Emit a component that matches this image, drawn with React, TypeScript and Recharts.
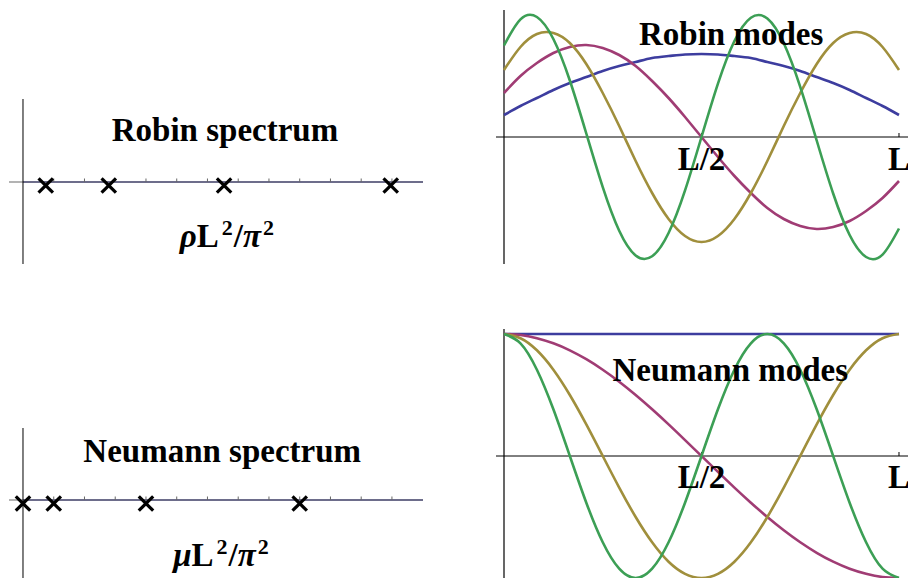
import type { ReactNode } from "react";
import {
  ComposedChart,
  Line,
  ReferenceDot,
  ReferenceLine,
  Scatter,
  ScatterChart,
  XAxis,
  YAxis,
} from "recharts";

// eigenvalues marked on the spectrum lines, in units of pi^2/L^2
const robinEigenvalues = [0.74, 2.79, 6.54, 11.96];
const neumannEigenvalues = [0, 1, 4, 9];
const spectrumTicks = [1, 2, 3, 4, 5, 6, 7, 8, 9, 10, 11, 12];

// mode shapes sampled at x = k*L/24, k = 0..24 (amplitude in px above the axis)
const robinBlue = [22, 31, 39, 47, 54, 60, 66, 71, 75, 79, 81, 82.5, 83, 82.5, 81, 79, 75, 71, 66, 60, 54, 47, 39, 31, 22];
const robinMagenta = [44, 61, 74, 84, 90, 92, 89, 82, 71, 56, 39, 20, 0, -20, -39, -56, -71, -82, -89, -92, -90, -84, -74, -61, -44];
const robinOlive = [67, 90, 103, 104, 94, 73, 44, 11, -24, -56, -82, -99, -105, -99, -82, -56, -24, 11, 44, 73, 94, 104, 103, 90, 67];
const robinGreen = [91.5, 117.6, 120, 98, 56.5, 3.5, -50.2, -93.8, -118.5, -119.3, -96, -53.4, 0, 53.4, 96, 119.3, 118.5, 93.8, 50.2, -3.5, -56.5, -98, -120, -117.6, -91.5];

const neumannBlue = [122, 122, 122, 122, 122, 122, 122, 122, 122, 122, 122, 122, 122, 122, 122, 122, 122, 122, 122, 122, 122, 122, 122, 122, 122];
const neumannMagenta = [122, 121, 117.8, 112.7, 105.7, 96.8, 86.3, 74.3, 61, 46.7, 31.6, 15.9, 0, -15.9, -31.6, -46.7, -61, -74.3, -86.3, -96.8, -105.7, -112.7, -117.8, -121, -122];
const neumannOlive = [122, 117.8, 105.7, 86.3, 61, 31.6, 0, -31.6, -61, -86.3, -105.7, -117.8, -122, -117.8, -105.7, -86.3, -61, -31.6, 0, 31.6, 61, 86.3, 105.7, 117.8, 122];
const neumannGreen = [122, 112.7, 86.3, 46.7, 0, -46.7, -86.3, -112.7, -122, -112.7, -86.3, -46.7, 0, 46.7, 86.3, 112.7, 122, 112.7, 86.3, 46.7, 0, -46.7, -86.3, -112.7, -122];

const modeTicks = [12, 24];
const modeTickLabels = ["L/2", "L"];

const COLORS = ["#3d3d9f", "#a03c74", "#a08f3c", "#3c9f55"];
const SERIF = "'Liberation Serif', 'Times New Roman', serif";

function boldText(x: number, y: number, content: ReactNode) {
  return (
    <text
      x={x}
      y={y}
      textAnchor="middle"
      fontFamily={SERIF}
      fontWeight="bold"
      fontSize={33}
      fill="#000"
    >
      {content}
    </text>
  );
}

// rho L^2 / pi^2 style axis caption
function scaledCaption(symbol: string) {
  return (
    <>
      <tspan fontStyle="italic">{symbol}</tspan>
      <tspan>L</tspan>
      <tspan fontSize={22} dx={3} dy={-12}>2</tspan>
      <tspan dx={1} dy={12}>/</tspan>
      <tspan fontStyle="italic">π</tspan>
      <tspan fontSize={22} dx={2} dy={-12}>2</tspan>
    </>
  );
}

function Cross(props: { cx?: number; cy?: number }) {
  const { cx = 0, cy = 0 } = props;
  const c = cy + 3.5;
  const h = 7.2;
  return (
    <g stroke="#000" strokeWidth={3.2}>
      <line x1={cx - h} y1={c - h} x2={cx + h} y2={c + h} />
      <line x1={cx - h} y1={c + h} x2={cx + h} y2={c - h} />
    </g>
  );
}

function Spectrum({
  values,
  top,
  height,
  yDomain,
  title,
  titleAt,
  caption,
  captionAt,
}: {
  values: number[];
  top: number;
  height: number;
  yDomain: [number, number];
  title: string;
  titleAt: [number, number];
  caption: ReactNode;
  captionAt: [number, number];
}) {
  const points = values.map((v) => ({ x: v, y: 0 }));
  return (
    <div style={{ position: "absolute", left: 8.5, top }}>
      <ScatterChart width={414} height={height} margin={{ top: 0, right: 0, bottom: 0, left: 0 }}>
        <XAxis type="number" dataKey="x" domain={[-0.455, 13.01]} allowDataOverflow hide />
        <YAxis type="number" dataKey="y" domain={yDomain} allowDataOverflow hide />
        <ReferenceLine y={0} stroke="#9a9a9a" strokeWidth={1.5} />
        <ReferenceLine
          segment={[
            { x: 0, y: 0 },
            { x: 13.01, y: 0 },
          ]}
          stroke="#56567e"
          strokeWidth={1.5}
        />
        <ReferenceLine x={0} stroke="#000" strokeWidth={1} />
        {spectrumTicks.map((t) => (
          <ReferenceLine
            key={t}
            segment={[
              { x: t, y: 0 },
              { x: t, y: 3.5 },
            ]}
            stroke="#666"
            strokeWidth={1}
          />
        ))}
        <ReferenceDot
          x={titleAt[0]}
          y={titleAt[1]}
          r={1}
          shape={(p: { cx: number; cy: number }) => boldText(p.cx, p.cy, title)}
        />
        <ReferenceDot
          x={captionAt[0]}
          y={captionAt[1]}
          r={1}
          shape={(p: { cx: number; cy: number }) => boldText(p.cx, p.cy, caption)}
        />
        <Scatter data={points} shape={<Cross />} isAnimationActive={false} />
      </ScatterChart>
    </div>
  );
}

function Modes({
  series,
  top,
  title,
  titleAt,
  labelY,
}: {
  series: number[][];
  top: number;
  title: string;
  titleAt: [number, number];
  labelY: number;
}) {
  const rows = series[0].map((_, s) => ({
    s,
    a: series[0][s],
    b: series[1][s],
    c: series[2][s],
    d: series[3][s],
  }));
  const keys = ["a", "b", "c", "d"];
  return (
    <div style={{ position: "absolute", left: 495.5, top }}>
      <ComposedChart width={412} height={254} data={rows} margin={{ top: 0, right: 0, bottom: 0, left: 0 }}>
        <XAxis type="number" dataKey="s" domain={[-0.486, 24.547]} allowDataOverflow hide />
        <YAxis type="number" domain={[-127, 127]} allowDataOverflow hide />
        <ReferenceLine y={0} stroke="#000" strokeWidth={1} />
        <ReferenceLine x={0} stroke="#000" strokeWidth={1.2} />
        {modeTicks.map((t) => (
          <ReferenceLine
            key={t}
            segment={[
              { x: t, y: 0 },
              { x: t, y: 4 },
            ]}
            stroke="#000"
            strokeWidth={1}
          />
        ))}
        {keys.map((k, i) => (
          <Line
            key={k}
            type="natural"
            dataKey={k}
            stroke={COLORS[i]}
            strokeWidth={2.6}
            dot={false}
            activeDot={false}
            isAnimationActive={false}
          />
        ))}
        {modeTicks.map((t, i) => (
          <ReferenceDot
            key={`l${t}`}
            x={t}
            y={labelY}
            r={1}
            shape={(p: { cx: number; cy: number }) => boldText(p.cx, p.cy, modeTickLabels[i])}
          />
        ))}
        <ReferenceDot
          x={titleAt[0]}
          y={titleAt[1]}
          r={1}
          shape={(p: { cx: number; cy: number }) => boldText(p.cx, p.cy, title)}
        />
      </ComposedChart>
    </div>
  );
}

export default function App() {
  return (
    <div
      style={{
        position: "absolute",
        left: 0,
        top: 0,
        width: 908,
        height: 578,
        overflow: "hidden",
        background: "#fff",
      }}
    >
      <Spectrum
        values={robinEigenvalues}
        top={98.5}
        height={165}
        yDomain={[-82, 83]}
        title="Robin spectrum"
        titleAt={[6.57, 41]}
        caption={scaledCaption("ρ")}
        captionAt={[6.63, -65]}
      />
      <Spectrum
        values={neumannEigenvalues}
        top={427.5}
        height={155}
        yDomain={[-83, 72]}
        title="Neumann spectrum"
        titleAt={[6.48, 38]}
        caption={scaledCaption("μ")}
        captionAt={[6.44, -66]}
      />
      <Modes
        series={[robinBlue, robinMagenta, robinOlive, robinGreen]}
        top={9.5}
        title="Robin modes"
        titleAt={[13.8, 92]}
        labelY={-33}
      />
      <Modes
        series={[neumannBlue, neumannMagenta, neumannOlive, neumannGreen]}
        top={328.5}
        title="Neumann modes"
        titleAt={[13.75, 75]}
        labelY={-32}
      />
    </div>
  );
}
